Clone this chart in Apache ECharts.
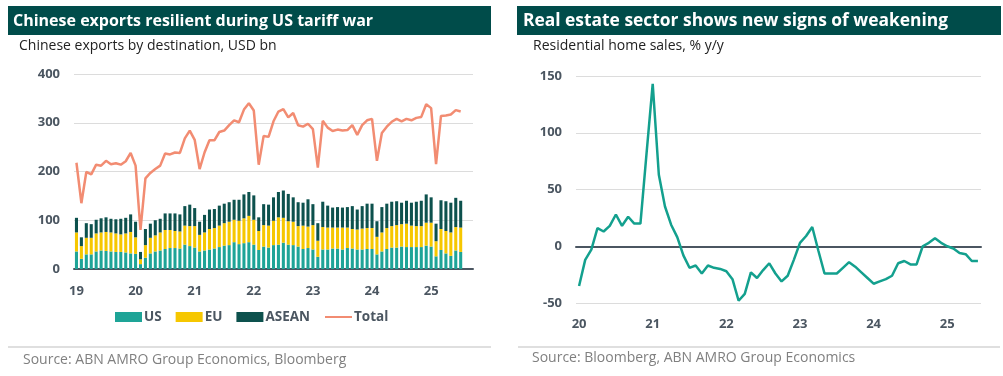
<!DOCTYPE html>
<html>
<head>
<meta charset="utf-8">
<script src="https://cdn.jsdelivr.net/npm/echarts@6/dist/echarts.min.js"></script>
<style>
  html, body { margin: 0; padding: 0; background: #fff; }
  #chart { width: 1003px; height: 376px; }
</style>
</head>
<body>
<div id="chart"></div>
<script>
// left chart: monthly exports Jan 2019 - Jul 2025, USD bn
const exportYears = ['19', '20', '21', '22', '23', '24', '25'];
const usExports = [
  36, 21, 30, 30, 36, 38, 37, 36, 35, 35, 34, 32,
  31, 10, 23, 32, 36, 38, 41, 43, 43, 42, 50, 47,
  44, 36, 38, 40, 42, 45, 48, 49, 55, 51, 53, 55,
  50, 39, 46, 44, 49, 50, 54, 50, 49, 46, 41, 43,
  40, 25, 40, 40, 42, 42, 40, 43, 42, 40, 40, 41,
  41, 30, 36, 41, 44, 44, 46, 45, 45, 45, 45, 48,
  46, 26, 39, 32, 27, 38, 35
];
const euExports = [
  39, 26, 34, 34, 37, 37, 39, 39, 38, 36, 39, 44,
  34, 10, 26, 32, 33, 37, 39, 37, 35, 35, 39, 41,
  44, 34, 37, 42, 42, 44, 46, 48, 46, 48, 51, 54,
  51, 39, 44, 45, 50, 56, 51, 48, 48, 42, 48, 44,
  50, 33, 46, 45, 43, 43, 45, 42, 40, 41, 43, 43,
  43, 36, 39, 43, 44, 46, 46, 48, 44, 43, 43, 47,
  49, 31, 43, 46, 48, 48, 50
];
const aseanExports = [
  30, 18, 30, 28, 28, 29, 30, 28, 29, 32, 32, 36,
  32, 15, 33, 29, 31, 28, 34, 34, 36, 35, 40, 44,
  37, 27, 36, 40, 39, 41, 40, 40, 41, 43, 49, 49,
  50, 28, 43, 43, 48, 52, 56, 56, 50, 49, 47, 56,
  43, 36, 52, 45, 41, 42, 41, 42, 47, 41, 46, 50,
  50, 32, 52, 50, 50, 49, 44, 47, 47, 50, 52, 58,
  52, 36, 59, 61, 61, 60, 55
];
const totalExports = [
  218, 135, 199, 194, 214, 212, 222, 215, 217, 214, 221, 238,
  212, 80, 186, 197, 205, 212, 237, 235, 239, 238, 268, 284,
  265, 205, 239, 264, 264, 281, 284, 295, 305, 301, 327, 340,
  325, 214, 273, 271, 303, 323, 328, 311, 320, 295, 292, 298,
  287, 208, 304, 290, 283, 286, 284, 285, 295, 275, 295, 305,
  308, 222, 279, 292, 302, 308, 303, 308, 305, 310, 312, 338,
  330, 215, 314, 315, 317, 326, 323
];

// right chart: residential home sales, % y/y, Jan 2020 - Jun 2025
const salesYears = ['20', '21', '22', '23', '24', '25'];
const homeSales = [
  -35, -12, -3, 16, 13, 18, 28, 18, 26, 20, 20, 82,
  143, 63, 35, 19, 8, -8, -19, -17, -24, -17, -19, -20,
  -22, -29, -48, -42, -23, -28, -21, -15, -24, -31, -26, -12,
  3, 9, 17, -4, -24, -24, -24, -19, -14, -18, -23, -28,
  -33, -31, -29, -26, -15, -13, -16, -16, 0, 3, 7, 3,
  0, -2, -6, -7, -13, -13
];

// monthly categories; the year label sits on each January
function monthCats(years, count) {
  const out = [];
  for (let i = 0; i < count; i++) {
    const y = years[Math.floor(i / 12)] || '';
    out.push(i % 12 === 0 ? y : y + '-' + (i % 12 + 1));
  }
  return out;
}
const exportMonths = monthCats(exportYears, 81);
const salesMonths = monthCats(salesYears, 66);

const FONT = 'Open Sans';
const AXIS_DARK = '#4b5661';
const GRID_GREY = '#dcdcdc';
const TITLE_BG = '#004c4a';

const yearOnly = (idx) => idx % 12 === 0;

const chart = echarts.init(document.getElementById('chart'), null, { renderer: 'canvas' });

chart.setOption({
  animation: false,
  textStyle: { fontFamily: FONT },
  graphic: [
    { type: 'rect', shape: { x: 8, y: 6, width: 483, height: 29 }, style: { fill: TITLE_BG } },
    { type: 'rect', shape: { x: 517, y: 6, width: 484, height: 29 }, style: { fill: TITLE_BG } },
    { type: 'text', x: 13, y: 21, style: { text: 'Chinese exports resilient during US tariff war', fill: '#fff', font: 'bold 16px ' + FONT, verticalAlign: 'middle' } },
    { type: 'text', x: 523, y: 21, style: { text: 'Real estate sector shows new signs of weakening', fill: '#fff', font: 'bold 17.4px ' + FONT, verticalAlign: 'middle' } },
    { type: 'text', x: 19, y: 46, style: { text: 'Chinese exports by destination, USD bn', fill: '#222', font: '14px ' + FONT, verticalAlign: 'middle' } },
    { type: 'text', x: 533, y: 46, style: { text: 'Residential home sales, % y/y', fill: '#222', font: '14px ' + FONT, verticalAlign: 'middle' } },
    { type: 'line', shape: { x1: 8, y1: 347, x2: 491, y2: 347 }, style: { stroke: '#bfbfbf', lineWidth: 1 } },
    { type: 'line', shape: { x1: 518, y1: 347, x2: 1000, y2: 347 }, style: { stroke: '#bfbfbf', lineWidth: 1 } },
    { type: 'text', x: 23, y: 360, style: { text: 'Source: ABN AMRO Group Economics, Bloomberg', fill: '#808080', font: '14px ' + FONT, verticalAlign: 'middle' } },
    { type: 'text', x: 532, y: 358, style: { text: 'Source: Bloomberg, ABN AMRO Group Economics', fill: '#808080', font: '14px ' + FONT, verticalAlign: 'middle' } }
  ],
  legend: {
    left: 115,
    top: 310,
    padding: 0,
    itemWidth: 27,
    itemHeight: 10,
    itemGap: 14,
    selectedMode: false,
    textStyle: { fontWeight: 'bold', fontSize: 13.5, color: AXIS_DARK, fontFamily: FONT, padding: [0, 0, 0, -3] },
    data: [
      { name: 'US', icon: 'rect' },
      { name: 'EU', icon: 'rect' },
      { name: 'ASEAN', icon: 'rect' },
      { name: 'Total', itemStyle: { opacity: 0 } }
    ]
  },
  grid: [
    { left: 74, right: 530, top: 74, bottom: 107 },
    { left: 576, right: 22, top: 76, bottom: 73 }
  ],
  xAxis: [
    {
      type: 'category',
      gridIndex: 0,
      data: exportMonths,
      boundaryGap: true,
      axisLine: { lineStyle: { color: AXIS_DARK, width: 2 } },
      axisTick: { interval: (idx) => yearOnly(idx), length: 4, lineStyle: { color: AXIS_DARK, width: 2 } },
      axisLabel: { interval: (idx) => yearOnly(idx), margin: 16, color: AXIS_DARK, fontWeight: 'bold', fontSize: 13 },
      splitLine: { show: false }
    },
    {
      type: 'category',
      gridIndex: 1,
      data: salesMonths,
      boundaryGap: true,
      position: 'bottom',
      axisLine: { show: false, onZero: false },
      axisTick: { show: false },
      axisLabel: { interval: (idx) => yearOnly(idx), margin: 15, color: AXIS_DARK, fontWeight: 'bold', fontSize: 13 },
      splitLine: { show: false }
    },
    {
      type: 'category',
      gridIndex: 1,
      data: salesMonths,
      boundaryGap: true,
      position: 'top',
      axisLine: { onZero: true, lineStyle: { color: AXIS_DARK, width: 2 } },
      axisTick: { interval: (idx) => yearOnly(idx), inside: true, length: 4, lineStyle: { color: AXIS_DARK, width: 2 } },
      axisLabel: { show: false },
      splitLine: { show: false }
    }
  ],
  yAxis: [
    {
      type: 'value',
      gridIndex: 0,
      min: 0,
      max: 400,
      interval: 100,
      axisLine: { show: false },
      axisTick: { show: false },
      axisLabel: { margin: 14, color: AXIS_DARK, fontWeight: 'bold', fontSize: 13 },
      splitLine: { lineStyle: { color: GRID_GREY, width: 1 } }
    },
    {
      type: 'value',
      gridIndex: 1,
      min: -50,
      max: 150,
      interval: 50,
      axisLine: { show: false },
      axisTick: { show: false },
      axisLabel: { margin: 14, color: AXIS_DARK, fontWeight: 'bold', fontSize: 13 },
      splitLine: { lineStyle: { color: GRID_GREY, width: 1 } }
    }
  ],
  series: [
    { name: 'US', type: 'bar', stack: 'exp', xAxisIndex: 0, yAxisIndex: 0, barWidth: '62%', color: '#1ea497', data: usExports },
    { name: 'EU', type: 'bar', stack: 'exp', xAxisIndex: 0, yAxisIndex: 0, barWidth: '62%', color: '#f6c700', data: euExports },
    { name: 'ASEAN', type: 'bar', stack: 'exp', xAxisIndex: 0, yAxisIndex: 0, barWidth: '62%', color: '#0d514d', data: aseanExports },
    {
      name: 'Total', type: 'line', xAxisIndex: 0, yAxisIndex: 0,
      symbol: 'none', color: '#f28c72',
      lineStyle: { width: 2.5, color: '#f28c72' },
      data: totalExports
    },
    {
      name: 'Home sales', type: 'line', xAxisIndex: 1, yAxisIndex: 1,
      symbol: 'none', color: '#13a08e',
      lineStyle: { width: 2.5, color: '#13a08e' },
      data: homeSales
    }
  ]
});
</script>
</body>
</html>
